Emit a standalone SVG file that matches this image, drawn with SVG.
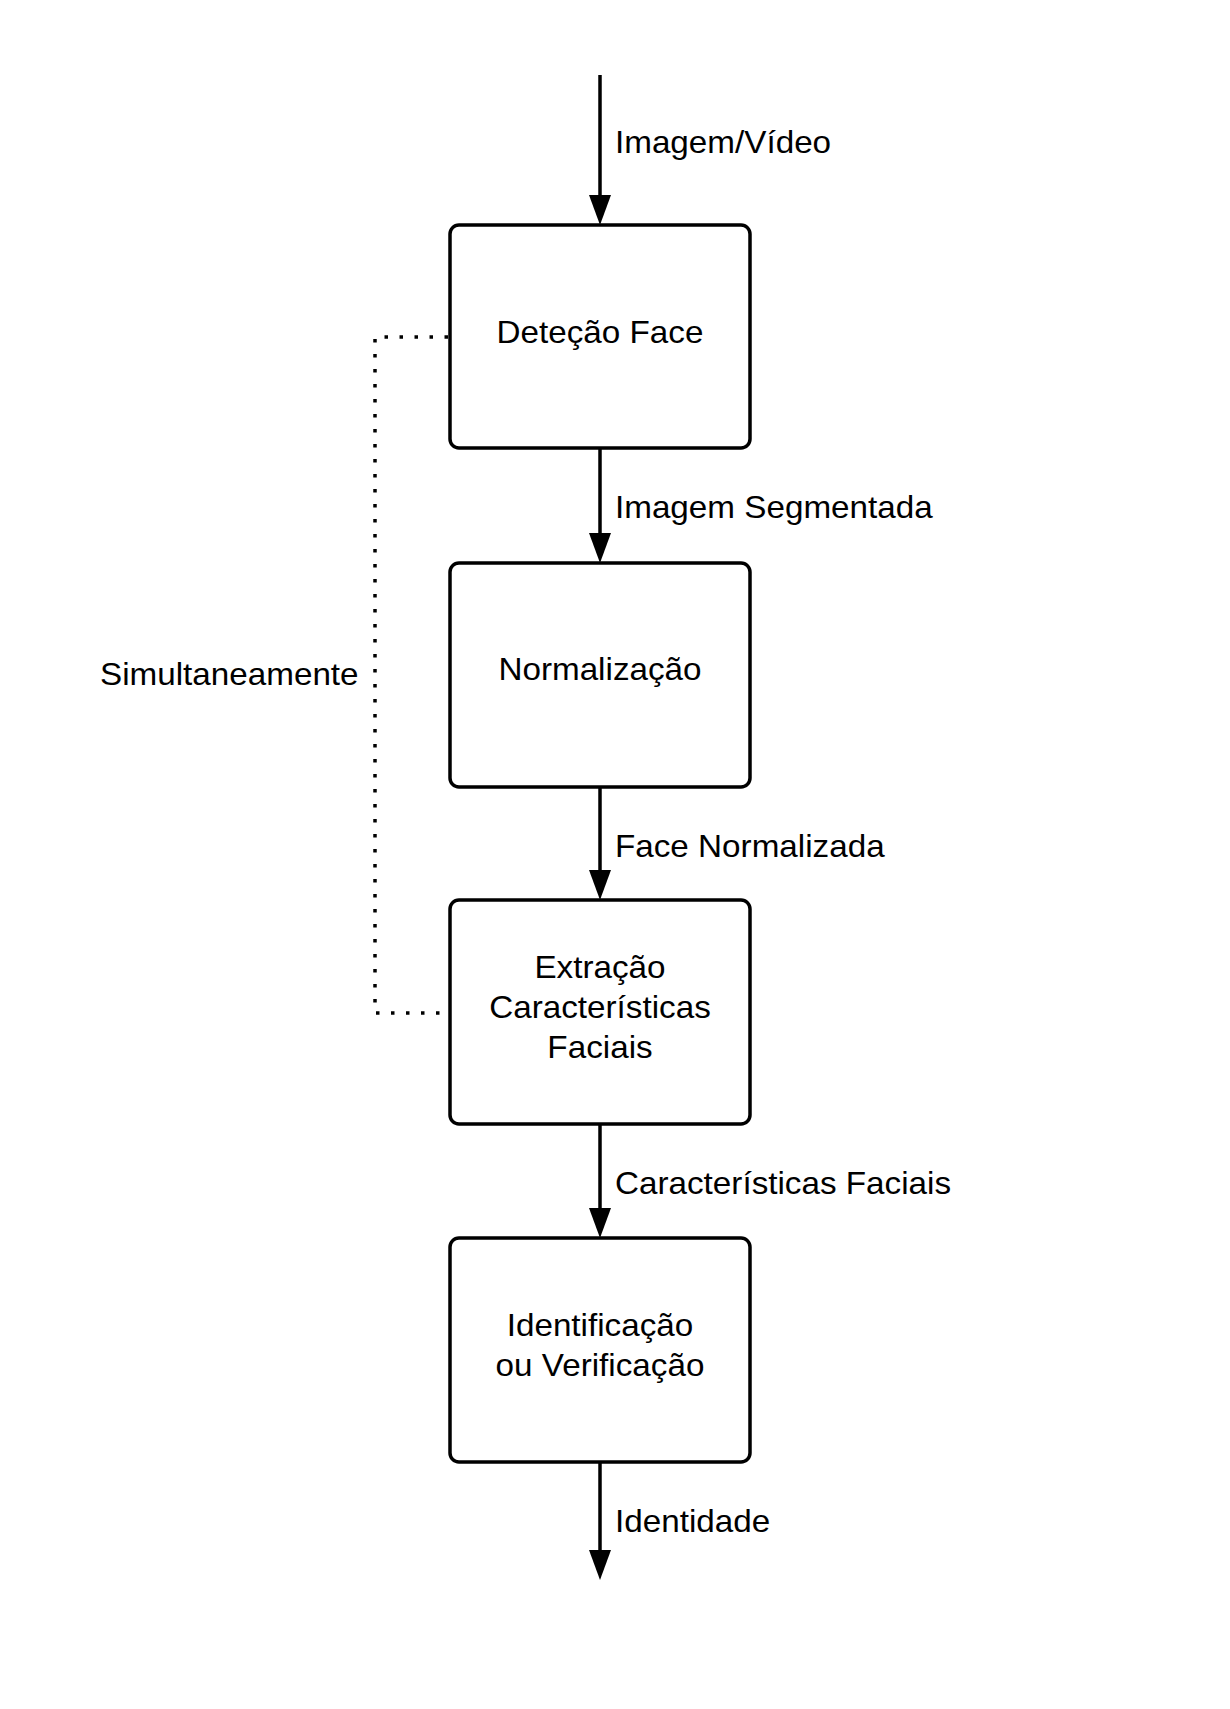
<svg xmlns="http://www.w3.org/2000/svg" width="1230" height="1709" viewBox="0 0 1230 1709">
  <defs>
    <style>
      .box { fill: #ffffff; stroke: #000000; stroke-width: 3.5; }
      .t { font-family: "Liberation Sans", Arial, sans-serif; font-size: 30.5px; fill: #000000; }
      .c { text-anchor: middle; }
      .edge { fill: none; stroke: #000000; stroke-width: 3.5; }
      .dot { fill: none; stroke: #000000; stroke-width: 3.5; stroke-dasharray: 3.5 11.5; }
    </style>
    <marker id="arrow" markerUnits="userSpaceOnUse" markerWidth="32" markerHeight="24" refX="20" refY="11" orient="auto">
      <path d="M0,0 L30,11 L0,22 Z" fill="#000000"/>
    </marker>
  </defs>
  <rect width="1230" height="1709" fill="#ffffff"/>

  <g id="connectors">
    <g id="e-input">
      <line class="edge" x1="600" y1="75" x2="600" y2="215" marker-end="url(#arrow)"/>
      <text class="t" transform="scale(1.09 1)" x="564.2" y="153">Imagem/Vídeo</text>
    </g>
    <g id="e-seg">
      <line class="edge" x1="600" y1="448" x2="600" y2="553" marker-end="url(#arrow)"/>
      <text class="t" transform="scale(1.09 1)" x="564.2" y="518">Imagem Segmentada</text>
    </g>
    <g id="e-norm">
      <line class="edge" x1="600" y1="787" x2="600" y2="890" marker-end="url(#arrow)"/>
      <text class="t" transform="scale(1.09 1)" x="564.2" y="857">Face Normalizada</text>
    </g>
    <g id="e-feat">
      <line class="edge" x1="600" y1="1124" x2="600" y2="1228" marker-end="url(#arrow)"/>
      <text class="t" transform="scale(1.09 1)" x="564.2" y="1194">Características Faciais</text>
    </g>
    <g id="e-out">
      <line class="edge" x1="600" y1="1462" x2="600" y2="1570" marker-end="url(#arrow)"/>
      <text class="t" transform="scale(1.09 1)" x="564.2" y="1532">Identidade</text>
    </g>
    <g id="e-simul">
      <path class="dot" d="M448,337 H375 V1013 H448"/>
      <text class="t" transform="scale(1.09 1)" x="329" y="685" text-anchor="end">Simultaneamente</text>
    </g>
  </g>

  <g id="n-detecao">
    <rect class="box" x="450" y="225" width="300" height="223" rx="9" ry="9"/>
    <text class="t c" transform="scale(1.09 1)" x="550.46" y="343">Deteção Face</text>
  </g>
  <g id="n-normalizacao">
    <rect class="box" x="450" y="563" width="300" height="224" rx="9" ry="9"/>
    <text class="t c" transform="scale(1.09 1)" x="550.46" y="680">Normalização</text>
  </g>
  <g id="n-extracao">
    <rect class="box" x="450" y="900" width="300" height="224" rx="9" ry="9"/>
    <text class="t c" transform="scale(1.09 1)" x="550.46" y="978">Extração</text>
    <text class="t c" transform="scale(1.09 1)" x="550.46" y="1018">Características</text>
    <text class="t c" transform="scale(1.09 1)" x="550.46" y="1058">Faciais</text>
  </g>
  <g id="n-identificacao">
    <rect class="box" x="450" y="1238" width="300" height="224" rx="9" ry="9"/>
    <text class="t c" transform="scale(1.09 1)" x="550.46" y="1336">Identificação</text>
    <text class="t c" transform="scale(1.09 1)" x="550.46" y="1376">ou Verificação</text>
  </g>
</svg>
